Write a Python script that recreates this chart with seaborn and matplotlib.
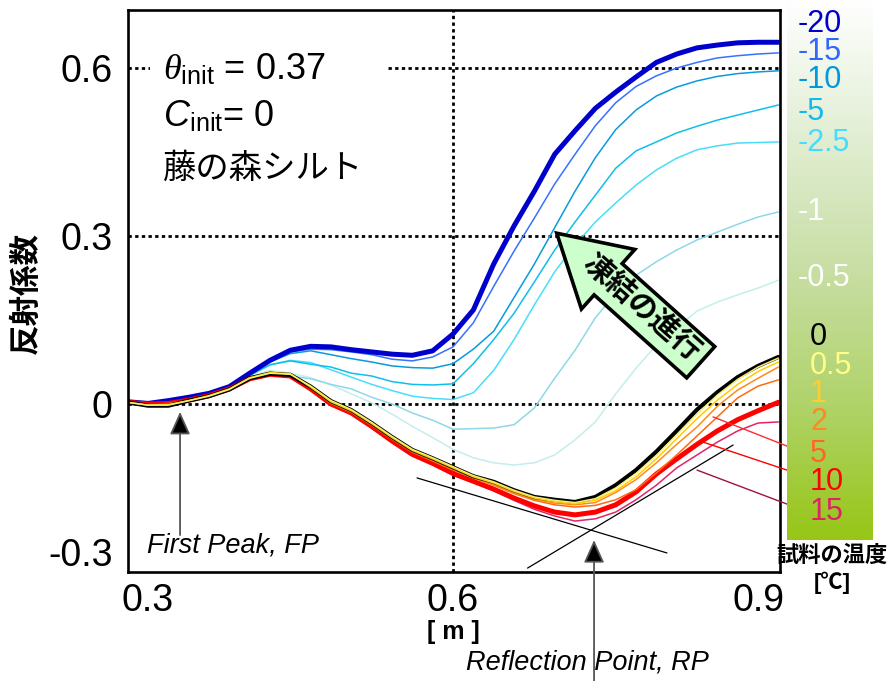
import numpy as np
import pandas as pd
import matplotlib
matplotlib.use("Agg")
import matplotlib.pyplot as plt
import seaborn as sns
from matplotlib.colors import LinearSegmentedColormap
from matplotlib.patches import FancyArrow, Rectangle
from matplotlib.transforms import ScaledTranslation

# ---------------------------------------------------------------- data
position_m = [0.28, 0.30, 0.32, 0.34, 0.36, 0.38, 0.40, 0.42, 0.44, 0.46, 0.48,
              0.50, 0.52, 0.54, 0.56, 0.58, 0.60, 0.62, 0.64, 0.66, 0.68, 0.70,
              0.72, 0.74, 0.76, 0.78, 0.80, 0.82, 0.84, 0.86, 0.88, 0.90, 0.92]

refl_m20 = [0.004, 0.001, 0.006, 0.012, 0.019, 0.031, 0.055, 0.078, 0.096, 0.103, 0.102,
            0.097, 0.093, 0.089, 0.087, 0.095, 0.125, 0.168, 0.250, 0.318, 0.380, 0.446,
            0.488, 0.528, 0.557, 0.584, 0.610, 0.625, 0.636, 0.641, 0.645, 0.646, 0.646]
refl_m15 = [0.003, 0.000, 0.005, 0.012, 0.020, 0.032, 0.055, 0.077, 0.093, 0.098, 0.097,
            0.093, 0.088, 0.080, 0.077, 0.084, 0.102, 0.145, 0.210, 0.273, 0.332, 0.393,
            0.446, 0.497, 0.538, 0.567, 0.586, 0.600, 0.610, 0.618, 0.622, 0.625, 0.627]
refl_m10 = [0.002, 0.000, 0.004, 0.011, 0.018, 0.030, 0.053, 0.075, 0.090, 0.095, 0.088,
            0.081, 0.075, 0.068, 0.065, 0.064, 0.072, 0.098, 0.130, 0.190, 0.250, 0.315,
            0.380, 0.440, 0.490, 0.525, 0.550, 0.566, 0.577, 0.585, 0.590, 0.593, 0.595]
refl_m5 = [0.003, 0.000, 0.005, 0.011, 0.018, 0.030, 0.052, 0.070, 0.077, 0.071, 0.066,
           0.055, 0.050, 0.040, 0.035, 0.034, 0.036, 0.072, 0.115, 0.162, 0.218, 0.275,
           0.325, 0.373, 0.421, 0.452, 0.468, 0.484, 0.496, 0.507, 0.516, 0.525, 0.534]
refl_m2_5 = [0.003, 0.000, 0.004, 0.010, 0.017, 0.029, 0.050, 0.070, 0.078, 0.074, 0.061,
             0.048, 0.035, 0.024, 0.014, 0.010, 0.008, 0.020, 0.060, 0.115, 0.177, 0.236,
             0.284, 0.325, 0.359, 0.391, 0.418, 0.439, 0.454, 0.461, 0.466, 0.467, 0.468]
refl_m1 = [0.003, 0.000, 0.004, 0.010, 0.017, 0.029, 0.048, 0.058, 0.050, 0.045, 0.035,
           0.027, 0.012, 0.000, -0.016, -0.029, -0.045, -0.044, -0.043, -0.037, -0.007, 0.046,
           0.096, 0.154, 0.198, 0.230, 0.254, 0.275, 0.293, 0.307, 0.321, 0.334, 0.343]
refl_m0_5 = [0.003, 0.000, 0.004, 0.010, 0.017, 0.029, 0.048, 0.060, 0.055, 0.047, 0.034,
             0.018, 0.002, -0.018, -0.040, -0.060, -0.081, -0.096, -0.105, -0.109, -0.105, -0.091,
             -0.064, -0.032, 0.018, 0.064, 0.105, 0.136, 0.166, 0.182, 0.195, 0.207, 0.221]
refl_0 = [0.003, -0.003, -0.003, 0.006, 0.014, 0.026, 0.046, 0.054, 0.052, 0.031, 0.005,
          -0.011, -0.034, -0.059, -0.082, -0.097, -0.113, -0.129, -0.139, -0.154, -0.166, -0.171,
          -0.175, -0.166, -0.145, -0.118, -0.085, -0.048, -0.010, 0.021, 0.048, 0.068, 0.084]
refl_0_5 = [0.003, -0.002, -0.002, 0.006, 0.014, 0.026, 0.046, 0.055, 0.053, 0.032, 0.006,
            -0.010, -0.033, -0.058, -0.081, -0.096, -0.112, -0.128, -0.139, -0.154, -0.166, -0.172,
            -0.176, -0.169, -0.150, -0.124, -0.092, -0.055, -0.018, 0.016, 0.044, 0.066, 0.082]
refl_1 = [0.003, -0.002, -0.001, 0.006, 0.015, 0.027, 0.047, 0.056, 0.054, 0.030, 0.004,
          -0.012, -0.035, -0.060, -0.083, -0.098, -0.114, -0.130, -0.141, -0.156, -0.168, -0.174,
          -0.178, -0.172, -0.155, -0.130, -0.098, -0.062, -0.026, 0.007, 0.035, 0.058, 0.075]
refl_2 = [0.003, -0.001, 0.000, 0.007, 0.015, 0.027, 0.046, 0.055, 0.053, 0.029, 0.002,
          -0.014, -0.037, -0.062, -0.085, -0.100, -0.116, -0.132, -0.144, -0.159, -0.170, -0.177,
          -0.180, -0.176, -0.158, -0.135, -0.105, -0.072, -0.041, -0.004, 0.025, 0.046, 0.066]
refl_5 = [0.003, -0.001, 0.001, 0.007, 0.015, 0.027, 0.045, 0.054, 0.052, 0.028, 0.001,
          -0.015, -0.038, -0.063, -0.086, -0.102, -0.118, -0.132, -0.145, -0.160, -0.172, -0.180,
          -0.184, -0.181, -0.171, -0.153, -0.123, -0.091, -0.057, -0.023, 0.011, 0.032, 0.043]
refl_10 = [0.003, 0.000, 0.001, 0.007, 0.015, 0.027, 0.045, 0.053, 0.050, 0.027, 0.000,
           -0.016, -0.040, -0.066, -0.090, -0.106, -0.124, -0.138, -0.152, -0.168, -0.182, -0.193,
           -0.198, -0.193, -0.180, -0.157, -0.125, -0.098, -0.072, -0.048, -0.028, -0.012, 0.003]
refl_15 = [0.003, 0.000, 0.001, 0.007, 0.015, 0.027, 0.045, 0.052, 0.048, 0.025, -0.002,
           -0.018, -0.042, -0.068, -0.092, -0.108, -0.127, -0.140, -0.155, -0.172, -0.188, -0.200,
           -0.209, -0.205, -0.193, -0.171, -0.145, -0.114, -0.091, -0.068, -0.048, -0.034, -0.032]

temperatures = ['-20', '-15', '-10', '-5', '-2.5', '-1', '-0.5',
                '0', '0.5', '1', '2', '5', '10', '15']
curves = [refl_m20, refl_m15, refl_m10, refl_m5, refl_m2_5, refl_m1, refl_m0_5,
          refl_0, refl_0_5, refl_1, refl_2, refl_5, refl_10, refl_15]

line_colors = {'-20': '#0000CC', '-15': '#3870FF', '-10': '#0A9ADC', '-5': '#10BEEE',
               '-2.5': '#48DEFA', '-1': '#8ED8E8', '-0.5': '#C4EEEC',
               '0': '#000000', '0.5': '#F5F070', '1': '#FFCC00', '2': '#FF8A1A',
               '5': '#FF6A10', '10': '#FF0000', '15': '#E0256A'}
label_colors = {'-20': '#0000CC', '-15': '#3366FF', '-10': '#0099DD', '-5': '#11BBEE',
                '-2.5': '#44DDFF', '-1': '#FFFFFF', '-0.5': '#FFFFFF',
                '0': '#000000', '0.5': '#FFFF88', '1': '#FFCC33', '2': '#FF8822',
                '5': '#FF6622', '10': '#FF0000', '15': '#DD2266'}
line_widths = {t: 1.1 for t in temperatures}
line_widths.update({'-20': 3.6, '0': 3.0, '10': 3.6})
draw_order = ['-0.5', '-1', '-2.5', '-5', '-10', '-15', '-20',
              '15', '10', '5', '2', '0', '1', '0.5']

# label positions in the colour panel (figure pixels from top-left)
label_y_px = [24, 52, 80, 112, 143, 212, 278, 337, 366, 394, 422, 454, 482, 512]

df = pd.DataFrame({
    '位置': np.tile(position_m, len(temperatures)),
    '反射係数': np.concatenate(curves),
    '温度': np.repeat(temperatures, len(position_m)),
})

# ---------------------------------------------------------------- style
sns.set_theme(style="white")
plt.rcParams['font.family'] = ['Liberation Sans', 'Noto Sans CJK JP', 'DejaVu Sans']
plt.rcParams['text.color'] = 'black'
plt.rcParams['mathtext.fontset'] = 'custom'
plt.rcParams['mathtext.rm'] = 'Liberation Sans'
plt.rcParams['mathtext.it'] = 'Liberation Serif:italic'
plt.rcParams['mathtext.sf'] = 'Liberation Sans:italic'

W, H = 892, 681
fig = plt.figure(figsize=(W / 100, H / 100), dpi=100)
ax = fig.add_axes([128 / W, 1 - 572 / H, 652 / W, 562 / H])

# reference grid (dotted)
grid_kw = dict(color='black', lw=2.0, ls=(0, (1.2, 1.2)), zorder=1)
for yv in [0.0, 0.3, 0.6]:
    ax.axhline(yv, **grid_kw)
ax.axvline(0.6, **grid_kw)

sns.lineplot(data=df, x='位置', y='反射係数', hue='温度', hue_order=draw_order,
             palette=line_colors, size='温度', size_order=draw_order,
             sizes=line_widths, estimator=None, sort=False, legend=False, ax=ax)

ax.set_xlim(0.2803, 0.9216)
ax.set_ylim(-0.3, 0.7036)
ax.set_xlabel('')
ax.set_ylabel('')
ax.set_xticks([0.3, 0.6, 0.9])
ax.set_xticklabels(['0.3', '0.6', '0.9'])
ax.set_yticks([-0.3, 0.0, 0.3, 0.6])
ax.set_yticklabels(['', '0', '0.3', '0.6'])
ax.tick_params(axis='both', length=0, labelsize=27, colors='black')
ax.tick_params(axis='x', pad=8)
ax.tick_params(axis='y', pad=11)
ax.annotate('-0.3', xy=(0, -0.3), xycoords=('axes fraction', 'data'),
            xytext=(-15, 16), textcoords='offset pixels', ha='right', va='center',
            fontsize=27, color='black')
for sp in ax.spines.values():
    sp.set_color('black')
    sp.set_linewidth(1.9)
    sp.set_visible(True)

# condition text with white backing
ax.add_patch(Rectangle((0.302, 0.39), 0.234, 0.29, fc='white', ec='none', zorder=1.5))
ax.text(0.3148, 0.5786, r'$\theta_{\mathrm{init}}$ = 0.37', fontsize=26, va='baseline', zorder=3)
ax.text(0.3148, 0.4946, r'$\mathsf{C}_{\mathrm{init}}$= 0', fontsize=26, va='baseline', zorder=3)
ax.text(0.3148, 0.404, '藤の森シルト', fontsize=24, va='baseline', zorder=3)

# tangent construction lines around the reflection point
tangent_a = ([0.5646, 0.8104], [-0.132, -0.266])
tangent_b = ([0.6733, 0.8755], [-0.293, -0.0732])
for xs, ys in (tangent_a, tangent_b):
    ax.plot(xs, ys, color='black', lw=0.9, zorder=3)

# leader lines to the 5 / 10 / 15 labels
leaders = [([0.8557, 0.9433], [-0.023, -0.0857], '#FF2A2A'),
           ([0.8459, 0.9433], [-0.068, -0.127], '#FF0000'),
           ([0.8400, 0.9413], [-0.118, -0.1875], '#A01048')]
for xs, ys, c in leaders:
    ax.plot(xs, ys, color=c, lw=1.0, clip_on=False, zorder=3)

# FP / RP pointers
arrow_kw = dict(arrowstyle='-|>,head_length=1.0,head_width=0.45', mutation_scale=14,
                ec='#555555', fc='black', lw=1.3, shrinkA=0, shrinkB=0)
ax.annotate('', xy=(0.3315, -0.014), xytext=(0.3315, -0.234), arrowprops=arrow_kw)
ax.text(0.299, -0.252, 'First Peak, FP', fontsize=19.5, style='italic', va='center',
        ha='left', color='black')
ax.annotate('', xy=(0.7387, -0.243), xytext=(0.7387, -0.52), arrowprops=arrow_kw,
            annotation_clip=False)
ax.text(0.6128, -0.4625, 'Reflection Point, RP', fontsize=19.5, style='italic',
        va='center', ha='left', clip_on=False, color='black')

# freezing-progress arrow (shape in inches, anchored at its tip)
tip_tr = fig.dpi_scale_trans + ScaledTranslation(0.702, 0.305, ax.transData)
ax.add_patch(FancyArrow(1.44, -1.29, -1.44, 1.29, width=0.42, head_width=0.80,
                        head_length=0.69, length_includes_head=True, fc='#CCFFCC',
                        ec='black', lw=2.6, transform=tip_tr, zorder=5, clip_on=False))
ax.text(0.84, -0.745, '凍結の進行', transform=tip_tr, rotation=-41.5,
        rotation_mode='anchor', ha='center', va='center', fontsize=21,
        fontweight='bold', zorder=6, color='black')

# axis titles
fig.text(27 / W, 1 - 293 / H, '反射係数', rotation=90, ha='center', va='center',
         fontsize=22, fontweight='bold', color='black')
fig.text(453 / W, 1 - 632 / H, '[ m ]', ha='center', va='center', fontsize=18,
         fontweight='bold', color='black')

# temperature colour panel
cax = fig.add_axes([787 / W, 1 - 540 / H, 86 / W, 540 / H])
panel_cmap = LinearSegmentedColormap.from_list(
    'panel', ['#FFFFFF', '#E2EED4', '#C8DEA4', '#B0D36A', '#97C616'])
cax.imshow(np.linspace(0, 1, 256).reshape(-1, 1), aspect='auto', cmap=panel_cmap,
           extent=[0, 1, 0, 1])
cax.axis('off')
for t, ypx in zip(temperatures, label_y_px):
    xpx = 798 if t.startswith('-') else 810
    fig.text(xpx / W, 1 - ypx / H, t, color=label_colors[t], fontsize=22,
             ha='left', va='center')
fig.text(832 / W, 1 - 556 / H, '試料の温度', ha='center', va='center', fontsize=16,
         fontweight='bold', color='black')
fig.text(832 / W, 1 - 583 / H, '[℃]', ha='center', va='center', fontsize=16,
         fontweight='bold', color='black')

fig.savefig('out.png', dpi=100)
